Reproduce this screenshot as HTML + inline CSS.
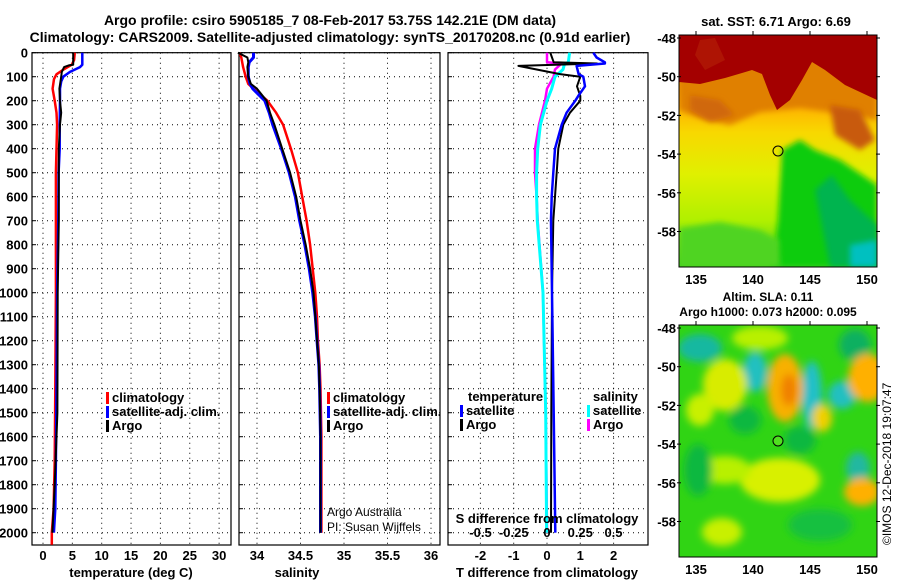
<!DOCTYPE html>
<html><head><meta charset="utf-8"><style>
body{margin:0;background:#fff;}
svg{display:block;font-family:"Liberation Sans",Arial,sans-serif;font-weight:bold;}
</style></head><body>
<svg id="chart" width="900" height="580" viewBox="0 0 900 580" xmlns="http://www.w3.org/2000/svg">
<defs>
<filter id="blur" x="-30%" y="-30%" width="160%" height="160%"><feGaussianBlur stdDeviation="4"/></filter>
<filter id="blur2" x="-20%" y="-20%" width="140%" height="140%"><feGaussianBlur stdDeviation="3"/></filter>
<clipPath id="clipTop"><rect x="679" y="35" width="198" height="232"/></clipPath>
<clipPath id="clipBot"><rect x="679" y="325" width="198" height="232"/></clipPath>
<linearGradient id="sstGrad" x1="0" y1="0" x2="0" y2="1">
<stop offset="0" stop-color="#d06000"/><stop offset="0.3" stop-color="#ffb000"/><stop offset="0.42" stop-color="#f8d800"/><stop offset="0.6" stop-color="#e0f000"/><stop offset="0.8" stop-color="#b0f000"/><stop offset="1" stop-color="#40d020"/>
</linearGradient>
</defs>
<text x="330" y="25" font-size="14" text-anchor="middle">Argo profile: csiro 5905185_7 08-Feb-2017 53.75S 142.21E (DM data)</text>
<text x="330" y="42" font-size="14" text-anchor="middle">Climatology: CARS2009. Satellite-adjusted climatology: synTS_20170208.nc (0.91d earlier)</text>

<!-- SST map -->
<g clip-path="url(#clipTop)">
<rect x="679" y="35" width="198" height="232" fill="url(#sstGrad)"/>
<path d="M782,150 L800,140 L815,150 L840,160 L877,185 L877,267 L772,267 L778,220 Z" fill="#10cc10" filter="url(#blur2)"/>
<path d="M815,190 L832,175 L850,200 L877,225 L877,267 L830,267 Z" fill="#00b450" filter="url(#blur2)"/>
<path d="M850,245 L877,240 L877,267 L850,267 Z" fill="#00c0c0" filter="url(#blur2)"/>
<path d="M679,228 L720,222 L760,230 L779,240 L780,267 L679,267 Z" fill="#50d420" filter="url(#blur2)"/>
<path d="M679,110 L700,118 L730,125 L760,112 L800,108 L830,112 L877,120 L877,35 L679,35 Z" fill="#e08000" filter="url(#blur2)"/>
<path d="M830,105 L860,110 L875,140 L860,150 L835,135 Z" fill="#c85a10" filter="url(#blur2)"/>
<path d="M690,95 L720,100 L735,115 L710,122 L690,110 Z" fill="#d06808" filter="url(#blur2)"/>
<path d="M679,82 L700,84 L725,78 L742,73 L752,70 L762,74 L770,95 L777,110 L790,100 L802,80 L812,62 L825,70 L845,85 L877,100 L877,35 L679,35 Z" fill="#a40000"/>
<path d="M700,40 L715,38 L725,60 L705,70 L695,55 Z" fill="#b82808" opacity="0.5"/>
</g>
<rect x="679" y="35" width="198" height="232" fill="none" stroke="#000"/>
<circle cx="778" cy="151" r="5" fill="none" stroke="#000"/>
<text x="776" y="26" font-size="13" text-anchor="middle">sat. SST: 6.71 Argo: 6.69</text>

<!-- SLA map -->
<g clip-path="url(#clipBot)">
<rect x="679" y="325" width="198" height="232" fill="#30d414"/>
<g filter="url(#blur)">
<ellipse cx="700" cy="348" rx="22" ry="14" fill="#18b8a0"/>
<ellipse cx="755" cy="372" rx="12" ry="20" fill="#20c0c0"/>
<ellipse cx="812" cy="395" rx="10" ry="34" fill="#20c0c8"/>
<ellipse cx="842" cy="395" rx="14" ry="14" fill="#20c0c0"/>
<ellipse cx="858" cy="468" rx="12" ry="16" fill="#20b8a0"/>
<ellipse cx="855" cy="345" rx="16" ry="16" fill="#10b060"/>
<ellipse cx="785" cy="388" rx="18" ry="34" fill="#f8b000"/>
<ellipse cx="789" cy="390" rx="8" ry="16" fill="#f08000"/>
<ellipse cx="868" cy="378" rx="20" ry="24" fill="#ffb000"/>
<ellipse cx="862" cy="492" rx="18" ry="14" fill="#ffb000"/>
<ellipse cx="822" cy="418" rx="10" ry="14" fill="#f0d000"/>
<ellipse cx="725" cy="385" rx="22" ry="26" fill="#d8ec00"/>
<ellipse cx="700" cy="410" rx="14" ry="16" fill="#c8f000"/>
<ellipse cx="780" cy="480" rx="40" ry="22" fill="#d8f000"/>
<ellipse cx="725" cy="470" rx="26" ry="14" fill="#b8f000"/>
<ellipse cx="722" cy="532" rx="20" ry="14" fill="#c8f000"/>
<ellipse cx="760" cy="338" rx="28" ry="12" fill="#b8f000"/>
<ellipse cx="800" cy="440" rx="16" ry="14" fill="#10b840"/>
<ellipse cx="698" cy="470" rx="14" ry="26" fill="#10b840"/>
<ellipse cx="820" cy="525" rx="32" ry="16" fill="#18c040"/>
<ellipse cx="745" cy="420" rx="16" ry="14" fill="#10b840"/>
</g>
</g>
<rect x="679" y="325" width="198" height="232" fill="none" stroke="#000"/>
<circle cx="778" cy="441" r="5" fill="#50e020" stroke="#000"/>
<text x="768" y="301" font-size="12" text-anchor="middle">Altim. SLA: 0.11</text>
<text x="768" y="316" font-size="12" text-anchor="middle">Argo h1000: 0.073 h2000: 0.095</text>
<text transform="translate(891,545) rotate(-90)" font-size="12" font-weight="normal">©IMOS 12-Dec-2018 19:07:47</text>
<g id="maps-axes"></g>
<g id="panels"></g>
</svg>
<script>
// ---------- data ----------
const yTicks=[0,100,200,300,400,500,600,700,800,900,1000,1100,1200,1300,1400,1500,1600,1700,1800,1900,2000];
const tTicks=[0,5,10,15,20,25,30];
const sTicks=[34,34.5,35,35.5,36];
const dTicks=[-2,-1,0,1,2];
const sdTicks=[-0.5,-0.25,0,0.25,0.5];
const sdTickLabels=["-0.5","-0.25","0","0.25","0.5"];
const lonTicks=[135,140,145,150];
const latTicks=[-48,-50,-52,-54,-56,-58];

const tClimDepth=[0,30,50,70,90,110,150,200,250,300,400,500,700,1000,1400,1700,1900,2000,2050];
const tClim=[5.42,5.3,4.9,3.5,2.3,1.87,1.63,2.0,2.3,2.4,2.3,2.2,2.2,2.2,2.1,2.0,1.8,1.5,1.5];
const tSatDepth=[0,50,60,80,100,120,150,200,300,400,500,700,1000,1400,1700,1900,2000];
const tSat=[6.7,6.7,6.3,4.6,3.45,3.1,2.9,2.9,2.85,2.85,2.65,2.6,2.4,2.3,2.2,2.1,1.85];
const tArgoDepth=[0,50,52,60,80,100,150,200,250,300,400,500,700,1000,1500,1800,2000];
const tArgo=[5.14,5.14,4.5,3.6,3.2,3.1,2.8,2.9,3.1,2.9,2.7,2.7,2.7,2.5,2.45,2.0,1.6];

const sDepth=[0,20,40,60,100,130,150,200,250,300,400,500,600,700,800,900,1000,1100,1200,1300,1400,1600,1800,2000];
const sClim=[33.80,33.82,33.83,33.84,33.87,33.90,33.96,34.12,34.22,34.30,34.39,34.47,34.52,34.57,34.61,34.64,34.67,34.69,34.70,34.72,34.73,34.74,34.74,34.74];
const sSat=[33.96,33.96,33.91,33.90,33.90,33.92,33.95,34.09,34.14,34.18,34.28,34.37,34.44,34.49,34.55,34.60,34.64,34.67,34.69,34.71,34.72,34.73,34.73,34.73];
const sArgo=[33.78,33.89,33.90,33.89,33.90,33.93,34.00,34.11,34.15,34.20,34.29,34.38,34.45,34.50,34.56,34.61,34.65,34.67,34.69,34.71,34.72,34.73,34.73,34.73];

const dtDepth=[0,20,40,45,55,89,100,140,180,200,250,300,400,500,600,700,1000,1500,2000];
const dtSat=[1.39,1.49,1.74,1.74,0.89,0.95,1.09,1.14,0.94,0.85,0.59,0.44,0.24,0.19,0.14,0.12,0.15,0.2,0.25];
const dtArgo=[0.1,0.15,0.2,1.5,-0.86,0.39,1.0,0.9,1.0,1.0,0.69,0.49,0.34,0.29,0.24,0.19,0.15,0.13,0.12];
const dsDepth=[0,40,45,50,70,100,150,200,300,400,500,600,700,1000,1500,2000];
const dsSat=[0.17,0.16,0.14,0.13,0.12,0.06,0.035,0,-0.05,-0.07,-0.078,-0.078,-0.073,-0.03,-0.01,-0.003];
const dsArgo=[0,0,0.11,0.1,0.06,0.05,0,-0.015,-0.06,-0.09,-0.09,-0.078,-0.07,-0.03,-0.01,0];

// ---------- helpers ----------
const NS="http://www.w3.org/2000/svg";
const root=document.getElementById('panels');
function mk(tag,attrs,parent){const e=document.createElementNS(NS,tag);for(const k in attrs)e.setAttribute(k,attrs[k]);(parent||root).appendChild(e);return e;}
const Y0=52.7, Y1=545, yScale=d=>Y0+0.24*d;

function panel(name,x0,x1,xScale,ticks,labels,opts){
  const g=mk('g',{});
  
  
  ticks.forEach(t=>{
    const l=mk('line',{x1:xScale(t),x2:xScale(t),y1:Y0,y2:Y1,stroke:'#000','stroke-dasharray':'1,4','stroke-width':1},g);
    
    
    const tx=mk('text',{x:xScale(t),y:560,'font-size':13,'text-anchor':'middle'},g);
    tx.textContent=labels?labels[ticks.indexOf(t)]:String(t);
    
    
  });
  yTicks.forEach(d=>{
    const l=mk('line',{x1:x0,x2:x1,y1:yScale(d),y2:yScale(d),stroke:'#000','stroke-dasharray':'1,4','stroke-width':1},g);
    
    
    const tk=mk('line',{x1:x0,x2:x0+4,y1:yScale(d),y2:yScale(d),stroke:'#000'},g);
    
    
    if(opts.yLabels){
      const tx=mk('text',{x:x0-4,y:yScale(d)+5,'font-size':13,'text-anchor':'end'},g);
      tx.textContent=String(d);
      
      
    }
  });
  const r=mk('rect',{x:x0,y:Y0,width:x1-x0,height:Y1-Y0,fill:'none',stroke:'#000','stroke-width':1.2},g);
  
  
  return g;
}
function line(g,name,depths,vals,xScale,color,w){
  const pts=depths.map((d,i)=>xScale(vals[i]).toFixed(1)+','+Math.min(yScale(d),Y1).toFixed(1)).join(' ');
  const p=mk('polyline',{points:pts,fill:'none',stroke:color,'stroke-width':w||2.5,'stroke-linejoin':'round'},g);
  
  
}
function text(g,name,x,y,s,size,anchor,weight){
  const t=mk('text',{x:x,y:y,'font-size':size||13,'text-anchor':anchor||'start'},g);
  if(weight)t.setAttribute('font-weight',weight);
  t.textContent=s;
  
  
}
function legendItem(g,name,x,y,color,label){
  const r=mk('rect',{x:x,y:y-10,width:3,height:12,fill:color},g);
  
  
  text(g,name+'-label',x+6,y,label,13);
}

// Panel 1 temperature
const xT=v=>43+5.87*v;
const g1=panel('temperature-panel',32,231,xT,tTicks,null,{yLabels:true});
line(g1,'temperature-climatology-line',tClimDepth,tClim,xT,'#ff0000');
line(g1,'temperature-satellite-line',tSatDepth,tSat,xT,'#0000ff');
line(g1,'temperature-argo-line',tArgoDepth,tArgo,xT,'#000000',2);
text(g1,'x-axis-title-temperature',131,577,'temperature (deg C)',13,'middle');
legendItem(g1,'legend-climatology',106,402,'#ff0000','climatology');
legendItem(g1,'legend-satellite-adj',106,416,'#0000ff','satellite-adj. clim.');
legendItem(g1,'legend-argo',106,430,'#000000','Argo');

// Panel 2 salinity
const xS=v=>257+87*(v-34);
const g2=panel('salinity-panel',239,440,xS,sTicks,null,{});
line(g2,'salinity-climatology-line',sDepth,sClim,xS,'#ff0000');
line(g2,'salinity-satellite-line',sDepth,sSat,xS,'#0000ff',3);
line(g2,'salinity-argo-line',sDepth,sArgo,xS,'#000000',2);
text(g2,'x-axis-title-salinity',297,577,'salinity',13,'middle');
legendItem(g2,'legend-climatology-s',327,402,'#ff0000','climatology');
legendItem(g2,'legend-satellite-adj-s',327,416,'#0000ff','satellite-adj. clim.');
legendItem(g2,'legend-argo-s',327,430,'#000000','Argo');
text(g2,'credit-argo-australia',327,516,'Argo Australia',12,'start','normal');
text(g2,'credit-pi',327,531,'PI: Susan Wijffels',12,'start','normal');

// Panel 3 differences
const xD=v=>547+33.3*v;
const xSD=v=>547+133*v;
const g3=panel('difference-panel',448,648,xD,dTicks,null,{});
line(g3,'s-diff-argo-line',dsDepth,dsArgo,xSD,'#ff00ff',2.5);
line(g3,'s-diff-satellite-line',dsDepth,dsSat,xSD,'#00ffff',3);
line(g3,'t-diff-argo-line',dtDepth,dtArgo,xD,'#000000',2);
line(g3,'t-diff-satellite-line',dtDepth,dtSat,xD,'#0000ff',2.5);
text(g3,'x-axis-title-tdiff',547,577,'T difference from climatology',13,'middle');
text(g3,'legend-temperature-heading',468,401,'temperature',13);
legendItem(g3,'legend-t-satellite',460,415,'#0000ff','satellite');
legendItem(g3,'legend-t-argo',460,429,'#000000','Argo');
text(g3,'legend-salinity-heading',593,401,'salinity',13);
legendItem(g3,'legend-s-satellite',587,415,'#00ffff','satellite');
legendItem(g3,'legend-s-argo',587,429,'#ff00ff','Argo');
text(g3,'s-diff-axis-title',547,523,'S difference from climatology',13,'middle');
sdTicks.forEach((t,i)=>text(g3,'s-diff-tick-label',xSD(t),537,sdTickLabels[i],13,'middle'));

// map axes
const ma=document.getElementById('maps-axes');
const lonX=v=>696+11.4*(v-135);
[[35,38,267],[325,328,557]].forEach(([top,lat0,bot],k)=>{
  lonTicks.forEach(v=>{
    const t=mk('text',{x:lonX(v),y:bot+17,'font-size':13,'text-anchor':'middle'},ma);
    t.textContent=String(v);
    
    
    const tk=mk('line',{x1:lonX(v),x2:lonX(v),y1:top-4,y2:top,stroke:'#000'},ma);
    
    
  });
  latTicks.forEach(v=>{
    const y=lat0+19.35*(-48-v);
    const t=mk('text',{x:676,y:y+5,'font-size':13,'text-anchor':'end'},ma);
    t.textContent=String(v);
    
    
    const tk=mk('line',{x1:677,x2:681,y1:y,y2:y,stroke:'#000'},ma);
    
    
    const tk2=mk('line',{x1:876,x2:880,y1:y,y2:y,stroke:'#000'},ma);
    
    
  });
});
</script>
</body></html>
